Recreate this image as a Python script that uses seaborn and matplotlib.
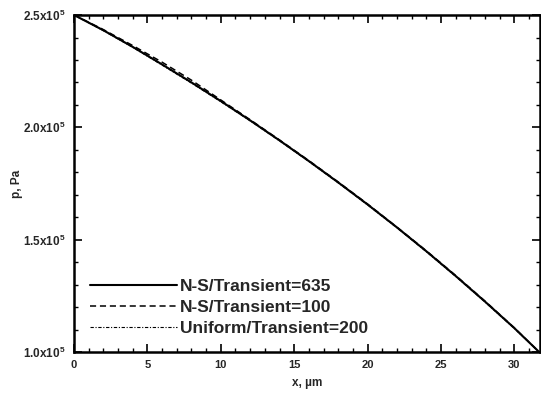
import matplotlib
matplotlib.use("Agg")
import matplotlib.pyplot as plt
import seaborn as sns
import pandas as pd
from matplotlib.ticker import MultipleLocator

# ---- data (x in micrometres, p in Pa) ----
x_ns635 = [0, 2, 4, 6, 8, 10, 12, 14, 16, 18, 20, 22, 24, 26, 28, 30, 31.7]
p_ns635 = [2.500e5, 2.432e5, 2.358e5, 2.280e5, 2.200e5, 2.117e5, 2.031e5, 1.942e5, 1.850e5,
           1.755e5, 1.657e5, 1.555e5, 1.449e5, 1.339e5, 1.225e5, 1.107e5, 1.000e5]

x_ns100 = [0, 2, 4, 6, 8, 10, 12, 14, 16, 18, 20, 22, 24, 26, 28, 30, 31.7]
p_ns100 = [2.500e5, 2.435e5, 2.364e5, 2.290e5, 2.210e5, 2.122e5, 2.034e5, 1.944e5, 1.852e5,
           1.757e5, 1.659e5, 1.556e5, 1.451e5, 1.341e5, 1.227e5, 1.108e5, 1.000e5]

x_uni200 = [0, 2, 4, 6, 8, 10, 12, 14, 16, 18, 20, 22, 24, 26, 28, 30, 31.7]
p_uni200 = [2.500e5, 2.430e5, 2.356e5, 2.277e5, 2.197e5, 2.114e5, 2.029e5, 1.940e5, 1.848e5,
            1.753e5, 1.655e5, 1.553e5, 1.447e5, 1.337e5, 1.223e5, 1.105e5, 1.000e5]

labels = ["N-S/Transient=635", "N-S/Transient=100", "Uniform/Transient=200"]
y_ticks = [1.0e5, 1.5e5, 2.0e5, 2.5e5]
y_ticklabels = [r"1.0x10$^5$", r"1.5x10$^5$", r"2.0x10$^5$", r"2.5x10$^5$"]
x_ticks = [0, 5, 10, 15, 20, 25, 30]

sns.set_theme(style="ticks")
plt.rcParams["font.family"] = ["Liberation Sans", "DejaVu Sans"]
plt.rcParams["font.weight"] = "bold"
plt.rcParams["mathtext.fontset"] = "custom"
plt.rcParams["mathtext.rm"] = "Liberation Sans:bold"
plt.rcParams["mathtext.bf"] = "Liberation Sans:bold"
plt.rcParams["mathtext.it"] = "Liberation Sans:bold"
plt.rcParams["mathtext.default"] = "bf"

fig = plt.figure(figsize=(5.41, 3.96), dpi=100)
ax = fig.add_axes([0.137, 0.111, 0.861, 0.851])

df1 = pd.DataFrame({"x": x_ns635, "p": p_ns635})
df2 = pd.DataFrame({"x": x_ns100, "p": p_ns100})
df3 = pd.DataFrame({"x": x_uni200, "p": p_uni200})

sns.lineplot(data=df1, x="x", y="p", ax=ax, color="black", lw=1.5, ls="-",
             label=labels[0], sort=False, estimator=None)
sns.lineplot(data=df2, x="x", y="p", ax=ax, color="black", lw=1.1, ls=(0, (4, 2.5)),
             label=labels[1], sort=False, estimator=None)
sns.lineplot(data=df3, x="x", y="p", ax=ax, color="black", lw=0.8, ls=(0, (3, 1.5, 1, 1.5)),
             label=labels[2], sort=False, estimator=None)

ax.set_xlim(0, 31.75)
ax.set_ylim(1.0e5, 2.5e5)
ax.set_xticks(x_ticks)
ax.set_xticklabels([str(t) for t in x_ticks], fontsize=8, fontweight="bold")
ax.set_yticks(y_ticks)
ax.set_yticklabels(y_ticklabels, fontsize=8.5, fontweight="bold")
ax.xaxis.set_minor_locator(MultipleLocator(1))
ax.yaxis.set_minor_locator(MultipleLocator(0.1e5))
ax.tick_params(which="both", direction="in", top=True, right=True, color="black")
ax.tick_params(which="major", length=6, width=1.2, pad=6)
ax.tick_params(which="minor", length=3, width=1.0)
for s in ax.spines.values():
    s.set_linewidth(1.8)
    s.set_color("black")

ax.set_xlabel("x, \u00b5m", fontsize=8.5, fontweight="bold", labelpad=5)
ax.set_ylabel("p, Pa", fontsize=8.5, fontweight="bold", labelpad=0)

leg = ax.legend(loc="lower left", bbox_to_anchor=(0.0, 0.0), frameon=False,
                handlelength=5.0, handletextpad=0.2, labelspacing=0.35,
                prop={"family": "Liberation Sans", "weight": "bold", "size": 12.5})

fig.savefig("out.png", dpi=100)
